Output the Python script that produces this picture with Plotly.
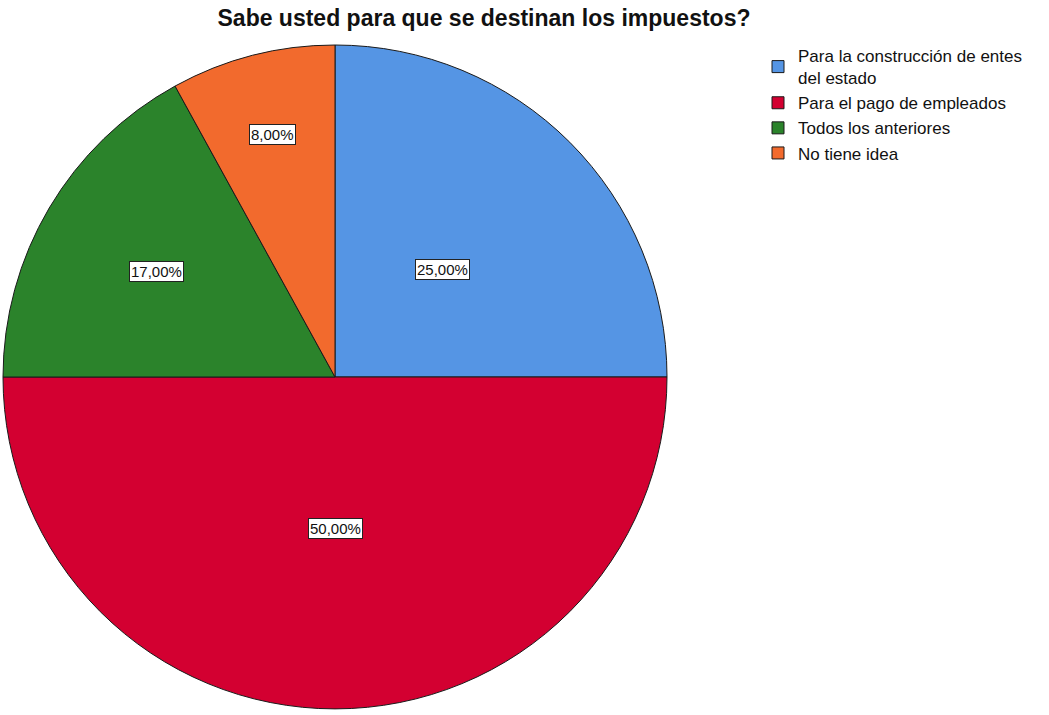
import math
import plotly.graph_objects as go

# Survey answers and their shares (%)
categories = [
    "Para la construcción de entes<br>del estado",
    "Para el pago de empleados",
    "Todos los anteriores",
    "No tiene idea",
]
shares = [25.0, 50.0, 17.0, 8.0]
colors = ["#5595E4", "#D30031", "#2B832B", "#F26A2D"]

# Radial distance of each value label, as a fraction of the pie radius
label_radius = [0.46, 0.455, 0.625, 0.755]

W, H = 1049, 715
CX, CY, R = 335, 377, 332  # pie centre (px from left/top) and radius
FONT = "Liberation Sans, Arial, sans-serif"

fig = go.Figure(
    go.Pie(
        labels=categories,
        values=shares,
        sort=False,
        direction="clockwise",
        rotation=0,
        marker=dict(colors=colors, line=dict(color="#1a1a1a", width=1)),
        textinfo="none",
        hoverinfo="label+percent",
        domain=dict(x=[(CX - R) / W, (CX + R) / W],
                    y=[(H - CY - R) / H, (H - CY + R) / H]),
    )
)

# Boxed percentage labels placed at each slice's mid-angle
total = sum(shares)
cum = 0.0
for v, rf in zip(shares, label_radius):
    mid = (cum + v / 2) / total * 2 * math.pi
    cum += v
    px = CX + rf * R * math.sin(mid)
    py = CY - rf * R * math.cos(mid)
    fig.add_annotation(
        x=px / W, y=1 - py / H, xref="paper", yref="paper",
        xanchor="center", yanchor="middle",
        text=f"{v:.2f}%".replace(".", ","),
        showarrow=False,
        font=dict(family=FONT, size=15, color="#111"),
        bgcolor="white", bordercolor="#222", borderwidth=1, borderpad=1,
    )

fig.update_layout(
    width=W, height=H,
    margin=dict(l=0, r=0, t=0, b=0),
    paper_bgcolor="white",
    plot_bgcolor="white",
    title=dict(
        text="<b>Sabe usted para que se destinan los impuestos?</b>",
        x=484 / W, xanchor="center", y=1 - 18 / H, yanchor="middle",
        font=dict(family=FONT, size=23, color="#111"),
    ),
    legend=dict(
        x=758 / W, y=1 - 38 / H, xanchor="left", yanchor="top",
        font=dict(family=FONT, size=17, color="#111"),
        bgcolor="rgba(0,0,0,0)",
        itemwidth=30,
        tracegroupgap=0,
    ),
)

fig.write_html("out.html")
